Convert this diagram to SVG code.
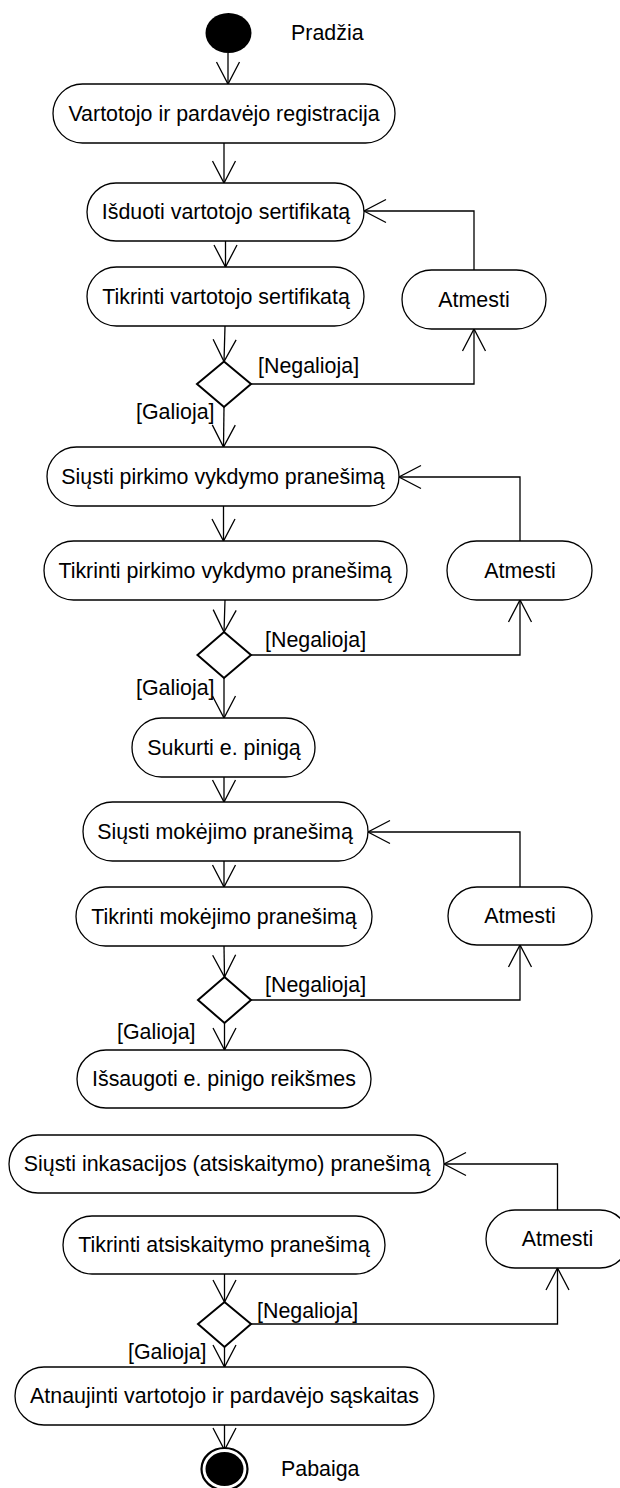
<svg xmlns="http://www.w3.org/2000/svg" width="620" height="1488" viewBox="0 0 620 1488">
  <defs>
    <marker id="open" markerUnits="userSpaceOnUse" markerWidth="30" markerHeight="30" viewBox="-25 -15 30 30" refX="0" refY="0" orient="auto" overflow="visible">
      <path d="M-22,-11.5 L0,0 L-22,11.5" fill="none" stroke="#000" stroke-width="1.3"/>
    </marker>
    <style>
      .act { fill: #fff; stroke: #000; stroke-width: 1.3; }
      .dec { fill: #fff; stroke: #000; stroke-width: 2; }
      .lbl { font-family: "Liberation Sans", Arial, sans-serif; font-size: 21.4px; fill: #000; }
      .c { text-anchor: middle; }
      .flow { fill: none; stroke: #000; stroke-width: 1.3; marker-end: url(#open); }
    </style>
  </defs>
  <rect width="620" height="1488" fill="#fff"/>

  <!-- connectors -->
  <g id="connectors">
    <path class="flow" d="M228,53 L228,84"/>
    <path class="flow" d="M224,143 L224,183"/>
    <path class="flow" d="M225.5,241 L225.5,267"/>
    <path class="flow" d="M225,326 L224,361.5"/>
    <path class="flow" d="M251,384 L474,384 L474,329"/>
    <path class="flow" d="M474,270 L474,211 L364,211"/>
    <path class="flow" d="M224,407 L223.5,447"/>
    <path class="flow" d="M223.5,506 L223.5,541"/>
    <path class="flow" d="M225,600 L224,632"/>
    <path class="flow" d="M251,655 L520,655 L520,600"/>
    <path class="flow" d="M520,541 L520,477 L399,477"/>
    <path class="flow" d="M224,678 L224,718"/>
    <path class="flow" d="M224,777 L224,802"/>
    <path class="flow" d="M224,861 L224,887"/>
    <path class="flow" d="M224,946 L224.5,977"/>
    <path class="flow" d="M251,1000 L520,1000 L520,945"/>
    <path class="flow" d="M520,887 L520,832 L368,832"/>
    <path class="flow" d="M224.5,1023 L224.5,1050"/>
    <path class="flow" d="M557.5,1210 L557.5,1164 L444,1164"/>
    <path class="flow" d="M224.5,1274 L224.5,1302"/>
    <path class="flow" d="M251,1324 L557.5,1324 L557.5,1268"/>
    <path class="flow" d="M224.5,1347 L224.5,1367"/>
    <path class="flow" d="M224.5,1425 L224.5,1450"/>
  </g>

  <!-- guard labels -->
  <g id="guards" class="lbl">
    <text x="258" y="373">[Negalioja]</text>
    <text x="136" y="419">[Galioja]</text>
    <text x="265" y="647">[Negalioja]</text>
    <text x="136" y="695">[Galioja]</text>
    <text x="265" y="992">[Negalioja]</text>
    <text x="117" y="1039">[Galioja]</text>
    <text x="257" y="1318">[Negalioja]</text>
    <text x="128" y="1359">[Galioja]</text>
  </g>

  <g id="start">
    <ellipse cx="228.5" cy="33" rx="23" ry="20" fill="#000"/>
    <text class="lbl" x="291" y="40">Pradžia</text>
  </g>

  <g id="registracija">
    <rect class="act" x="53" y="84" width="342" height="59" rx="29.5"/>
    <text class="lbl c" x="224" y="121">Vartotojo ir pardavėjo registracija</text>
  </g>

  <g id="isduoti-sert">
    <rect class="act" x="87" y="183" width="277" height="58" rx="29"/>
    <text class="lbl c" x="226" y="219">Išduoti vartotojo sertifikatą</text>
  </g>

  <g id="tikrinti-sert">
    <rect class="act" x="87" y="267" width="277" height="59" rx="29.5"/>
    <text class="lbl c" x="226" y="304">Tikrinti vartotojo sertifikatą</text>
  </g>

  <g id="atmesti-1">
    <rect class="act" x="402" y="270" width="144" height="59" rx="29.5"/>
    <text class="lbl c" x="474" y="307">Atmesti</text>
  </g>

  <g id="sprendimas-1">
    <polygon class="dec" points="224,361.5 251,384 224,407 197,384"/>
  </g>

  <g id="siusti-pirkimo">
    <rect class="act" x="47" y="447" width="352" height="59" rx="29.5"/>
    <text class="lbl c" x="223" y="484">Siųsti pirkimo vykdymo pranešimą</text>
  </g>

  <g id="tikrinti-pirkimo">
    <rect class="act" x="44" y="541" width="363" height="59" rx="29.5"/>
    <text class="lbl c" x="225" y="578">Tikrinti pirkimo vykdymo pranešimą</text>
  </g>

  <g id="atmesti-2">
    <rect class="act" x="447" y="541" width="145" height="59" rx="29.5"/>
    <text class="lbl c" x="520" y="578">Atmesti</text>
  </g>

  <g id="sprendimas-2">
    <polygon class="dec" points="224,632 251,655 224,678 197.5,655"/>
  </g>

  <g id="sukurti-pinigą">
    <rect class="act" x="132" y="718" width="183" height="59" rx="29.5"/>
    <text class="lbl c" x="224" y="755">Sukurti e. pinigą</text>
  </g>

  <g id="siusti-mokejimo">
    <rect class="act" x="83" y="802" width="285" height="59" rx="29.5"/>
    <text class="lbl c" x="225" y="839">Siųsti mokėjimo pranešimą</text>
  </g>

  <g id="tikrinti-mokejimo">
    <rect class="act" x="76" y="887" width="296" height="59" rx="29.5"/>
    <text class="lbl c" x="224" y="924">Tikrinti mokėjimo pranešimą</text>
  </g>

  <g id="atmesti-3">
    <rect class="act" x="448" y="887" width="144" height="58" rx="29"/>
    <text class="lbl c" x="520" y="923">Atmesti</text>
  </g>

  <g id="sprendimas-3">
    <polygon class="dec" points="224.5,977 251,1000 224.5,1023 198,1000"/>
  </g>

  <g id="issaugoti">
    <rect class="act" x="77" y="1050" width="294" height="58" rx="29"/>
    <text class="lbl c" x="224" y="1086">Išsaugoti e. pinigo reikšmes</text>
  </g>

  <g id="siusti-inkasacijos">
    <rect class="act" x="9" y="1135" width="435" height="58" rx="29"/>
    <text class="lbl c" x="227" y="1171">Siųsti inkasacijos (atsiskaitymo) pranešimą</text>
  </g>

  <g id="tikrinti-atsiskaitymo">
    <rect class="act" x="63" y="1216" width="322" height="58" rx="29"/>
    <text class="lbl c" x="224" y="1252">Tikrinti atsiskaitymo pranešimą</text>
  </g>

  <g id="atmesti-4">
    <rect class="act" x="486" y="1210" width="143" height="58" rx="29"/>
    <text class="lbl c" x="557.5" y="1246">Atmesti</text>
  </g>

  <g id="sprendimas-4">
    <polygon class="dec" points="224.5,1302 251,1324 224.5,1347 198,1324"/>
  </g>

  <g id="atnaujinti">
    <rect class="act" x="15" y="1367" width="419" height="58" rx="29"/>
    <text class="lbl c" x="224.5" y="1403">Atnaujinti vartotojo ir pardavėjo sąskaitas</text>
  </g>

  <g id="end">
    <ellipse cx="224.5" cy="1469" rx="23" ry="21" fill="#fff" stroke="#000" stroke-width="2.2"/>
    <ellipse cx="224.5" cy="1469" rx="19" ry="17" fill="#000"/>
    <text class="lbl" x="281" y="1476">Pabaiga</text>
  </g>
</svg>
